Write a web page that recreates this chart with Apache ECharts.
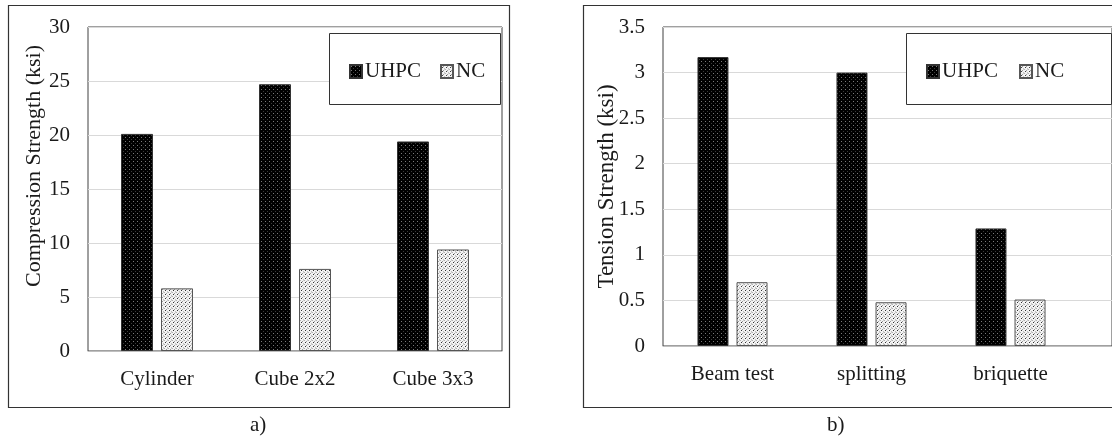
<!DOCTYPE html>
<html>
<head>
<meta charset="utf-8">
<script src="https://cdn.jsdelivr.net/npm/echarts@6/dist/echarts.min.js"></script>
<style>
  html, body { margin: 0; padding: 0; background: #fff; }
  #chart { width: 1112px; height: 440px; }
</style>
</head>
<body>
<div id="chart"></div>
<script>
// compression test data (panel a)
var compCats = ['Cylinder', 'Cube 2x2', 'Cube 3x3'];
var compUHPC = [20.1, 24.7, 19.4];
var compNC = [5.8, 7.6, 9.4];
// tension test data (panel b)
var tensCats = ['Beam test', 'splitting', 'briquette'];
var tensUHPC = [3.17, 3.0, 1.29];
var tensNC = [0.70, 0.48, 0.51];
var seriesNames = ['UHPC', 'NC'];

var FONT = '"Liberation Serif", "DejaVu Serif", serif';
var TXT = '#1a1a1a';

// dotted fill patterns
function makePattern(bg, dots) {
  var c = document.createElement('canvas');
  c.width = 4; c.height = 4;
  var g = c.getContext('2d');
  g.fillStyle = bg;
  g.fillRect(0, 0, 4, 4);
  for (var i = 0; i < dots.length; i++) {
    g.fillStyle = dots[i][2];
    g.fillRect(dots[i][0], dots[i][1], 1, 1);
  }
  return c;
}
var darkPat = makePattern('#000', [[1, 1, '#7a7a7a'], [3, 3, '#3a3a3a']]);
var lightPat = makePattern('#f4f4f4', [[0, 0, '#b0b0b0'], [2, 1, '#9a9a9a'], [1, 2, '#333'], [3, 3, '#c0c0c0'], [3, 0, '#d0d0d0']]);

var darkStyle = { color: { image: darkPat, repeat: 'repeat' }, borderColor: '#333', borderWidth: 1 };
var lightStyle = { color: { image: lightPat, repeat: 'repeat' }, borderColor: '#555', borderWidth: 1 };

function yAxisCfg(idx, name, max, interval, showLabels, showSplit) {
  return {
    type: 'value', gridIndex: idx, min: 0, max: max, interval: interval,
    name: name, nameLocation: 'middle', nameGap: 45, nameMoveOverlap: false,
    nameTextStyle: { fontFamily: FONT, fontSize: 23, color: TXT },
    axisLine: { show: false }, axisTick: { show: false },
    axisLabel: { show: showLabels, fontFamily: FONT, fontSize: 21, color: TXT, margin: 18 },
    splitLine: { show: showSplit, lineStyle: { color: '#d9d9d9', width: 1 } }
  };
}
function xAxisCfg(idx, cats, showLine, showLabels) {
  return {
    type: 'category', gridIndex: idx, data: cats,
    axisLine: { show: showLine, lineStyle: { color: '#bfbfbf', width: 1 } },
    axisTick: { show: false },
    axisLabel: { show: showLabels, fontFamily: FONT, fontSize: 21, color: TXT, margin: 18 }
  };
}
function legendCfg(left, gap) {
  return {
    left: left, top: 56, itemWidth: 12, itemHeight: 13, itemGap: gap,
    icon: 'rect', data: seriesNames,
    textStyle: { fontFamily: FONT, fontSize: 21, color: TXT, padding: [0, 0, 0, -2] }
  };
}

var chart = echarts.init(document.getElementById('chart'));
var option = {
  animation: false,
  backgroundColor: '#fff',
  grid: [
    // panel a
    { left: 88, top: 27, width: 414, height: 324, show: true, borderColor: '#404040', borderWidth: 1 },
    // panel b: bars
    { left: 663, top: 27, width: 417, height: 319 },
    // panel b: frame, runs past the right edge of the picture
    { left: 663, top: 27, right: -2, height: 319, show: true, borderColor: '#404040', borderWidth: 1 }
  ],
  legend: [legendCfg(344, 19), legendCfg(921, 21)],
  xAxis: [
    xAxisCfg(0, compCats, true, true),
    xAxisCfg(1, tensCats, false, true),
    xAxisCfg(2, tensCats, true, false)
  ],
  yAxis: [
    yAxisCfg(0, '', 30, 5, true, true),
    yAxisCfg(1, 'Tension Strength (ksi)', 3.5, 0.5, true, false),
    yAxisCfg(2, '', 3.5, 0.5, false, true)
  ],
  series: [
    { name: 'UHPC', type: 'bar', xAxisIndex: 0, yAxisIndex: 0, data: compUHPC, barWidth: 32, barGap: '25%', itemStyle: darkStyle },
    { name: 'NC', type: 'bar', xAxisIndex: 0, yAxisIndex: 0, data: compNC, barWidth: 32, barGap: '25%', itemStyle: lightStyle },
    { name: 'UHPC', type: 'bar', xAxisIndex: 1, yAxisIndex: 1, data: tensUHPC, barWidth: 31, barGap: '26%', itemStyle: darkStyle, z: 3 },
    { name: 'NC', type: 'bar', xAxisIndex: 1, yAxisIndex: 1, data: tensNC, barWidth: 31, barGap: '26%', itemStyle: lightStyle, z: 3 }
  ],
  graphic: [
    // panel frames
    { type: 'rect', shape: { x: 8.5, y: 5.5, width: 501, height: 402 }, style: { fill: null, stroke: '#333', lineWidth: 1.2 }, z: 100 },
    { type: 'rect', shape: { x: 583.5, y: 5.5, width: 560, height: 402 }, style: { fill: null, stroke: '#333', lineWidth: 1.2 }, z: 100 },
    // legend boxes
    { type: 'rect', shape: { x: 329.5, y: 33.5, width: 171, height: 71 }, style: { fill: '#fff', stroke: '#333', lineWidth: 1 }, z: 1 },
    { type: 'rect', shape: { x: 906.5, y: 33.5, width: 205, height: 71 }, style: { fill: '#fff', stroke: '#333', lineWidth: 1 }, z: 1 },
    // left axis title (sits above the middle of the axis in the original)
    { type: 'text', x: 34, y: 166, rotation: Math.PI / 2,
      style: { text: 'Compression Strength (ksi)', font: '22px ' + FONT, fill: TXT, align: 'center', verticalAlign: 'middle' }, z: 100 },
    // panel captions
    { type: 'text', left: 250, top: 415, style: { text: 'a)', font: '21px ' + FONT, fill: TXT }, z: 100 },
    { type: 'text', left: 827, top: 415, style: { text: 'b)', font: '21px ' + FONT, fill: TXT }, z: 100 }
  ]
};
chart.setOption(option);
</script>
</body>
</html>
